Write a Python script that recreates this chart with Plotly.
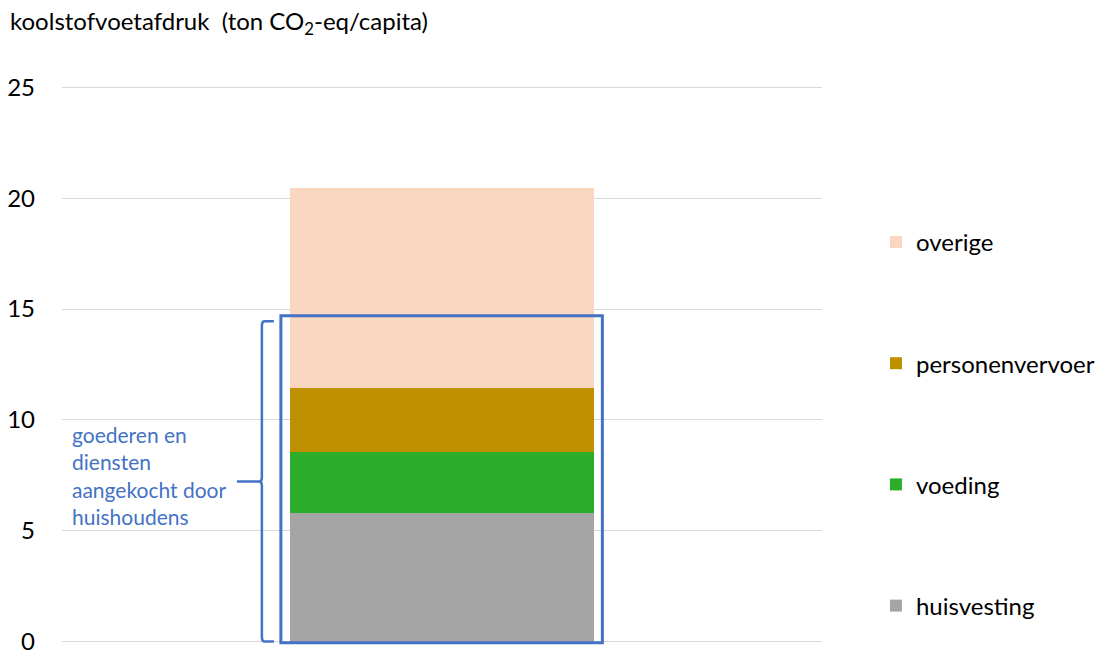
import plotly.graph_objects as go

# Koolstofvoetafdruk per categorie (ton CO2-eq per persoon)
categories = ["huisvesting", "voeding", "personenvervoer", "overige"]
values = [5.8, 2.75, 2.9, 9.0]
colors = ["#A5A5A5", "#2CAE2C", "#BF9000", "#F8D6C0"]

# Deel van de voetafdruk dat door huishoudens wordt aangekocht
household_total = 14.7
household_label = "goederen en<br>diensten<br>aangekocht door<br>huishoudens"

y_ticks = [0, 5, 10, 15, 20, 25]
title_text = "koolstofvoetafdruk  (ton CO<sub>2</sub>-eq/capita)"

FONT = "Lato"
BLUE = "#4472C4"

fig = go.Figure()
n = len(categories)
for i, (name, val, col) in enumerate(zip(categories, values, colors)):
    fig.add_trace(go.Bar(
        x=[0], y=[val], name=name, width=0.4,
        marker=dict(color=col, line=dict(width=0)),
        legendgroup=name, legendrank=n - i,
    ))

# Kader rond het deel aangekocht door huishoudens
fig.add_shape(type="rect", xref="x", yref="y",
              x0=-0.212, x1=0.211, y0=-0.05, y1=household_total,
              line=dict(color=BLUE, width=3), fillcolor="rgba(0,0,0,0)",
              layer="above")

# Accolade links van het kader
px_per_x = 760.0
px_per_y = 22.16
bx = -0.237           # verticale lijn van de accolade
hook = 12 / px_per_x  # lengte van de haakjes
tip = 25 / px_per_x   # punt naar links
r = 4 / px_per_y
top = household_total - 0.25
bot = 0.0
mid = top / 2
path = (
    f"M {bx + hook},{top} "
    f"L {bx + 3/px_per_x},{top} Q {bx},{top} {bx},{top - r} "
    f"L {bx},{mid + r} Q {bx},{mid} {bx - 3/px_per_x},{mid} "
    f"L {bx - tip},{mid} "
    f"M {bx - 3/px_per_x},{mid} Q {bx},{mid} {bx},{mid - r} "
    f"L {bx},{bot + r} Q {bx},{bot} {bx + 3/px_per_x},{bot} "
    f"L {bx + hook},{bot}"
)
fig.add_shape(type="path", xref="x", yref="y", path=path,
              line=dict(color=BLUE, width=2.5), layer="above")

fig.add_annotation(
    x=0, xref="paper", xanchor="left", xshift=8,
    y=mid + 0.25, yref="y", yanchor="middle",
    text=household_label, showarrow=False, align="left",
    font=dict(family=FONT, size=21, color=BLUE),
)

fig.update_layout(
    width=1105, height=652,
    margin=dict(l=62, r=283, t=83, b=6, autoexpand=False),
    paper_bgcolor="white", plot_bgcolor="white",
    barmode="stack", bargap=0,
    font=dict(family=FONT, size=24, color="#000000"),
    title=dict(text=title_text, xref="container", yref="container",
               x=10 / 1105, xanchor="left", y=1 - 22 / 652, yanchor="middle",
               automargin=False,
               font=dict(family=FONT, size=24, color="#000000")),
    xaxis=dict(range=[-0.5, 0.5], showticklabels=False, showgrid=False,
               zeroline=False, showline=False, fixedrange=True,
               automargin=False),
    yaxis=dict(range=[-0.2, 25.2], tickvals=y_ticks, showgrid=True,
               gridcolor="#D9D9D9", gridwidth=1, zeroline=False,
               showline=False, ticks="", ticklabelstandoff=26,
               ticklabeloverflow="allow", automargin=False,
               tickfont=dict(family=FONT, size=24, color="#000000")),
    showlegend=True,
    legend=dict(x=1.071, xanchor="left", y=0.7568, yanchor="top",
                xref="paper", yref="paper",
                traceorder="grouped", tracegroupgap=87,
                font=dict(family=FONT, size=24, color="#000000"),
                bgcolor="rgba(0,0,0,0)"),
)

fig.write_html("out.html")
